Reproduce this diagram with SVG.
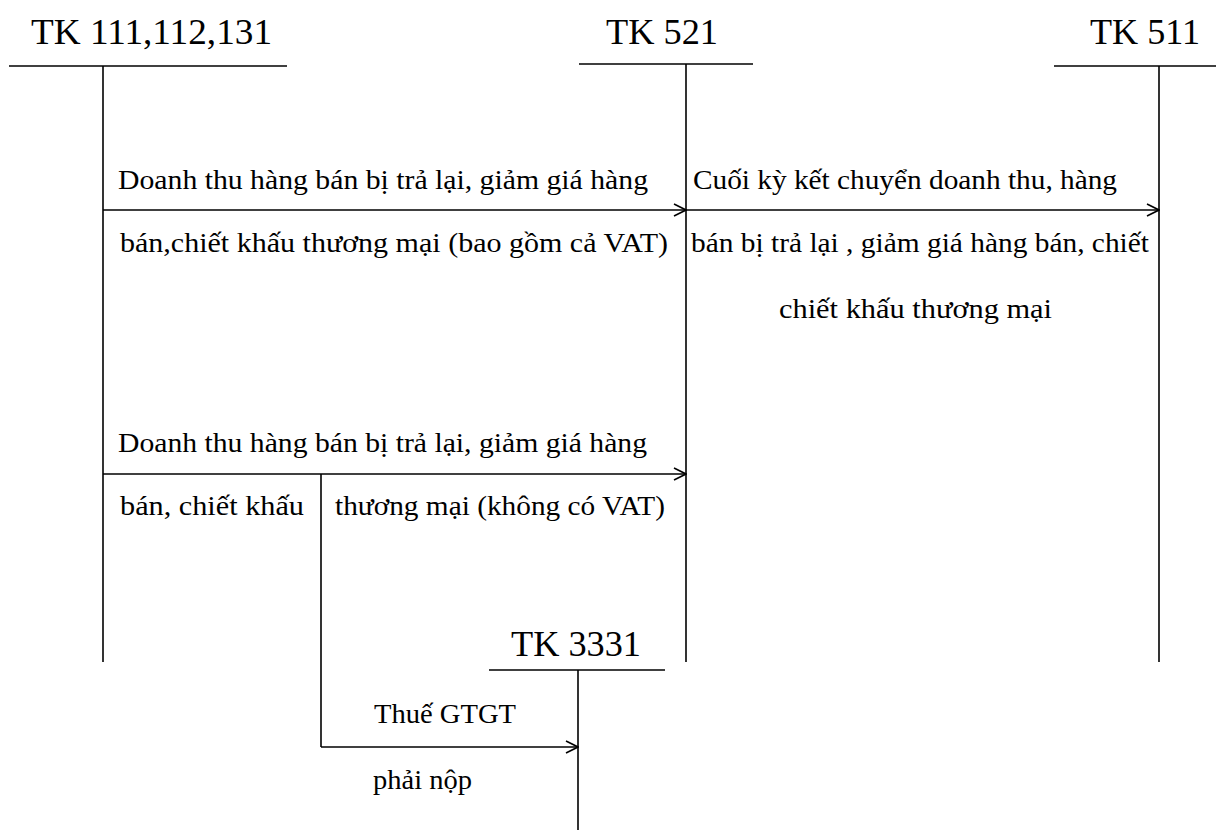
<svg xmlns="http://www.w3.org/2000/svg" width="1216" height="840" viewBox="0 0 1216 840">
<style>
text{font-family:"Liberation Serif","Times New Roman","DejaVu Serif",serif;fill:#000}
.h{font-size:36px}
.l{font-size:28px}
.ln{stroke:#000;stroke-width:1.6;fill:none}
</style>
<defs>
<marker id="ar" viewBox="0 0 14 14" refX="13" refY="7" markerWidth="14" markerHeight="14" markerUnits="userSpaceOnUse" orient="auto">
<path d="M1,1 L13,7 L1,13" fill="none" stroke="#000" stroke-width="1.6"/>
</marker>
</defs>
<rect width="1216" height="840" fill="#fff"/>
<g id="tk111">
<text class="h" x="31" y="44" textLength="241" lengthAdjust="spacingAndGlyphs">TK 111,112,131</text>
<line class="ln" x1="9" y1="66" x2="287" y2="66"/>
<line class="ln" x1="103" y1="66" x2="103" y2="662"/>
</g>
<g id="tk521">
<text class="h" x="606" y="44" textLength="112" lengthAdjust="spacingAndGlyphs">TK 521</text>
<line class="ln" x1="579" y1="64" x2="753" y2="64"/>
<line class="ln" x1="686" y1="64" x2="686" y2="662"/>
</g>
<g id="tk511">
<text class="h" x="1090" y="44" textLength="110" lengthAdjust="spacingAndGlyphs">TK 511</text>
<line class="ln" x1="1054" y1="66" x2="1216" y2="66"/>
<line class="ln" x1="1159" y1="66" x2="1159" y2="662"/>
</g>
<g id="tk3331">
<text class="h" x="511" y="656" textLength="130" lengthAdjust="spacingAndGlyphs">TK 3331</text>
<line class="ln" x1="489" y1="670" x2="665" y2="670"/>
<line class="ln" x1="578" y1="670" x2="578" y2="830"/>
</g>
<g id="connectors">
<line class="ln" x1="103" y1="210" x2="686" y2="210" marker-end="url(#ar)"/>
<line class="ln" x1="686" y1="210" x2="1159" y2="210" marker-end="url(#ar)"/>
<line class="ln" x1="103" y1="474" x2="686" y2="474" marker-end="url(#ar)"/>
<line class="ln" x1="321" y1="474" x2="321" y2="747"/>
<line class="ln" x1="321" y1="747" x2="578" y2="747" marker-end="url(#ar)"/>
</g>
<g id="labels">
<text class="l" x="118" y="189" textLength="530" lengthAdjust="spacingAndGlyphs">Doanh thu hàng bán bị trả lại, giảm giá hàng</text>
<text class="l" x="120" y="252" textLength="548" lengthAdjust="spacingAndGlyphs">bán,chiết khấu thương mại (bao gồm cả VAT)</text>
<text class="l" x="693" y="189" textLength="424" lengthAdjust="spacingAndGlyphs">Cuối kỳ kết chuyển doanh thu, hàng</text>
<text class="l" x="691" y="252" textLength="458" lengthAdjust="spacingAndGlyphs">bán bị trả lại , giảm giá hàng bán, chiết</text>
<text class="l" x="779" y="318" textLength="273" lengthAdjust="spacingAndGlyphs">chiết khấu thương mại</text>
<text class="l" x="118" y="452" textLength="529" lengthAdjust="spacingAndGlyphs">Doanh thu hàng bán bị trả lại, giảm giá hàng</text>
<text class="l" x="120" y="515" textLength="184" lengthAdjust="spacingAndGlyphs">bán, chiết khấu</text>
<text class="l" x="335" y="515" textLength="330" lengthAdjust="spacingAndGlyphs">thương mại (không có VAT)</text>
<text class="l" x="374" y="723" textLength="142" lengthAdjust="spacingAndGlyphs">Thuế GTGT</text>
<text class="l" x="373" y="789" textLength="99" lengthAdjust="spacingAndGlyphs">phải nộp</text>
</g>
</svg>
